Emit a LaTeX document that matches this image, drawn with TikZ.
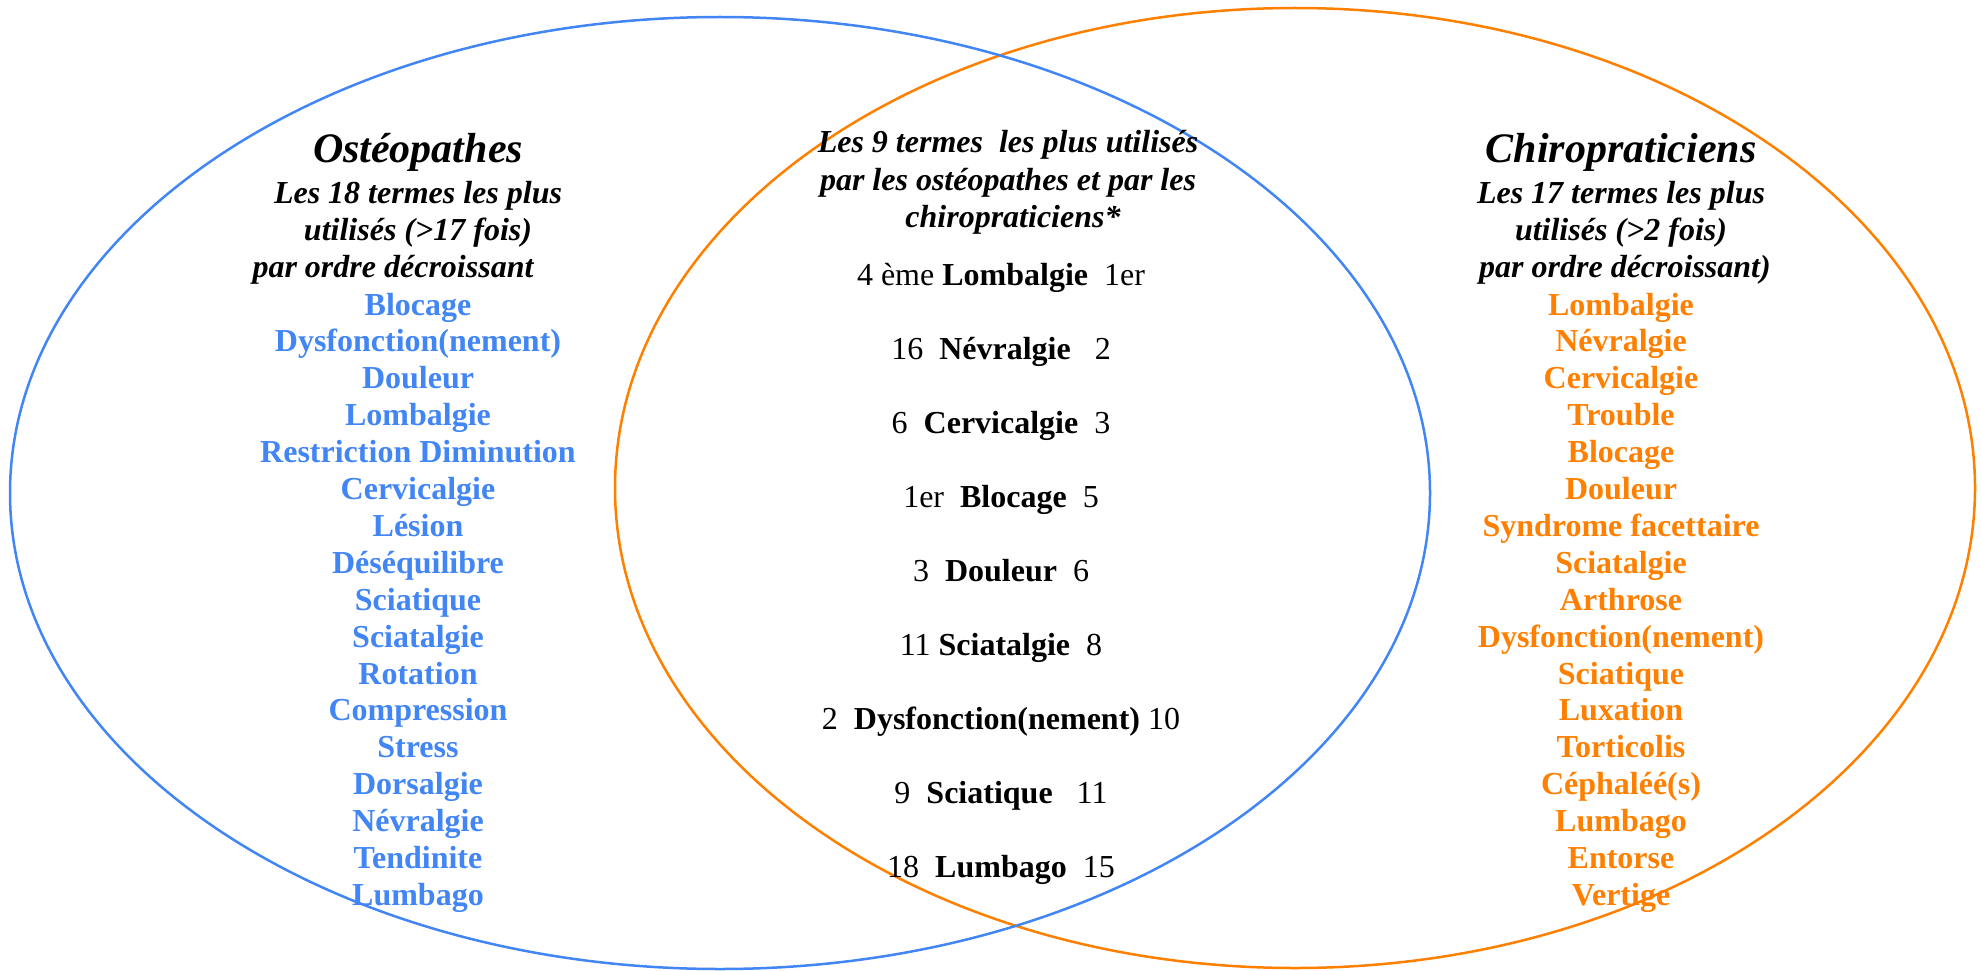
\documentclass[tikz,border=0pt]{standalone}
\usepackage{fontspec}
\setmainfont{Liberation Serif}
\definecolor{vblue}{RGB}{66,133,244}
\definecolor{vorange}{RGB}{255,128,0}
\begin{document}
\begin{tikzpicture}[x=1pt,y=-1pt,
  ring/.style={line width=2.5pt},
  title/.style={font=\fontsize{42}{48}\selectfont\bfseries\itshape, anchor=base, inner sep=0pt},
  head/.style={font=\fontsize{32}{37}\selectfont\bfseries\itshape, anchor=base, inner sep=0pt},
  bterm/.style={font=\fontsize{32}{37}\selectfont\bfseries, text=vblue, anchor=base, inner sep=0pt},
  oterm/.style={font=\fontsize{32}{37}\selectfont\bfseries, text=vorange, anchor=base, inner sep=0pt},
  pair/.style={font=\fontsize{32}{37}\selectfont, anchor=base, inner sep=0pt}]
\useasboundingbox (0,0) rectangle (1981,971);
\draw[ring, vorange] (1295,488) ellipse [x radius=680, y radius=480];
\draw[ring, vblue] (720,493) ellipse [x radius=710, y radius=476];

% left header
\node[title] (ost) at (418,163) {Ostéopathes};
\node[head] (oh1) at (418,203) {Les 18 termes les plus};
\node[head] (oh2) at (418,240) {utilisés (>17 fois)};
\node[head] (oh3) at (393,277) {par ordre décroissant};
\foreach \t [count=\i] in {Blocage,Dysfonction(nement),Douleur,Lombalgie,Restriction Diminution,Cervicalgie,Lésion,Déséquilibre,Sciatique,Sciatalgie,Rotation,Compression,Stress,Dorsalgie,Névralgie,Tendinite,Lumbago}
  \node[bterm] (b\i) at (418,{315+36.9*(\i-1)}) {\t};

% middle header
\node[head] (mh1) at (1008,153) {Les 9 termes~ les plus utilisés};
\node[head] (mh2) at (1008,190) {par les ostéopathes et par les};
\node[head] (mh3) at (1013,227) {chiropraticiens*};
\foreach \t [count=\i] in {{4 ème \textbf{Lombalgie}~~1er},{16~~\textbf{Névralgie}~~~2},{6~~\textbf{Cervicalgie}~~3},{1er~~\textbf{Blocage}~~5},{3~~\textbf{Douleur}~~6},{11~\textbf{Sciatalgie}~~8},{2~~\textbf{Dysfonction(nement)}~10},{9~~\textbf{Sciatique}~~~11},{18~~\textbf{Lumbago}~~15}}
  \node[pair] (m\i) at (1001,{285+74*(\i-1)}) {\t};

% right header
\node[title] (chi) at (1621,163) {Chiropraticiens};
\node[head] (ch1) at (1621,203) {Les 17 termes les plus};
\node[head] (ch2) at (1621,240) {utilisés (>2 fois)};
\node[head] (ch3) at (1625,277) {par ordre décroissant)};
\foreach \t [count=\i] in {Lombalgie,Névralgie,Cervicalgie,Trouble,Blocage,Douleur,Syndrome facettaire,Sciatalgie,Arthrose,Dysfonction(nement),Sciatique,Luxation,Torticolis,Céphaléé(s),Lumbago,Entorse,Vertige}
  \node[oterm] (o\i) at (1621,{315+36.9*(\i-1)}) {\t};
\end{tikzpicture}
\end{document}
